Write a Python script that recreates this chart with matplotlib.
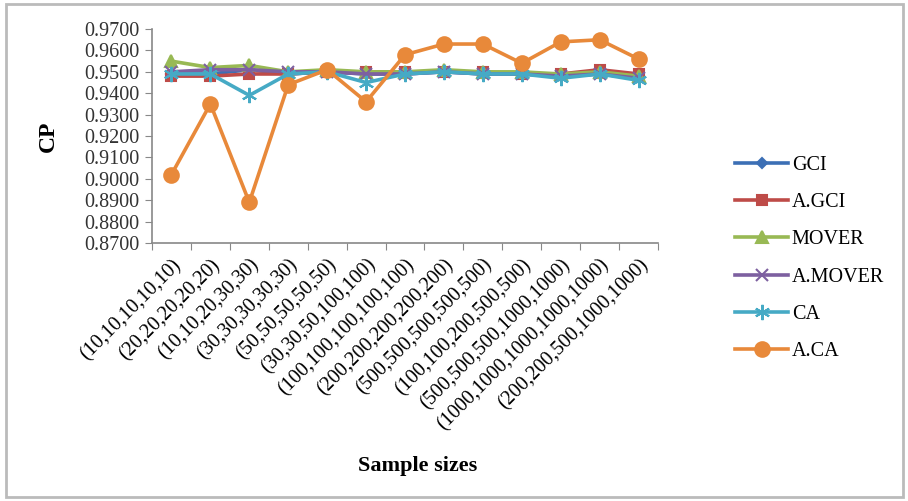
import numpy as np
import matplotlib.pyplot as plt
from matplotlib.patches import Rectangle

plt.rcParams['font.family'] = ['Liberation Serif', 'DejaVu Serif']

sizes = ['(10,10,10,10,10)', '(20,20,20,20,20)', '(10,10,20,30,30)',
         '(30,30,30,30,30)', '(50,50,50,50,50)', '(30,30,50,100,100)',
         '(100,100,100,100,100)', '(200,200,200,200,200)',
         '(500,500,500,500,500)', '(100,100,200,500,500)',
         '(500,500,500,1000,1000)', '(1000,1000,1000,1000,1000)',
         '(200,200,500,1000,1000)']

gci = [0.949, 0.949, 0.951, 0.949, 0.950, 0.949, 0.949, 0.950, 0.949, 0.949, 0.948, 0.949, 0.947]
a_gci = [0.948, 0.948, 0.949, 0.949, 0.950, 0.950, 0.950, 0.950, 0.950, 0.949, 0.949, 0.951, 0.949]
mover = [0.955, 0.952, 0.953, 0.950, 0.951, 0.950, 0.950, 0.951, 0.950, 0.950, 0.949, 0.950, 0.948]
a_mover = [0.950, 0.951, 0.951, 0.950, 0.950, 0.949, 0.949, 0.950, 0.949, 0.949, 0.948, 0.949, 0.947]
ca = [0.949, 0.949, 0.939, 0.949, 0.950, 0.945, 0.949, 0.950, 0.949, 0.949, 0.947, 0.949, 0.946]
a_ca = [0.902, 0.935, 0.889, 0.944, 0.951, 0.936, 0.958, 0.963, 0.963, 0.954, 0.964, 0.965, 0.956]

series = [
    ('GCI', gci, '#3C6FB5', 'D', 5),
    ('A.GCI', a_gci, '#BE4B48', 's', 7),
    ('MOVER', mover, '#98B954', '^', 8),
    ('A.MOVER', a_mover, '#7D60A0', 'x', 9),
    ('CA', ca, '#46AAC5', (6, 2, 0), 11),
    ('A.CA', a_ca, '#E8893A', 'o', 10.5),
]

fig = plt.figure(figsize=(9.08, 5.01), dpi=100)
ax = fig.add_axes([0.1674, 0.515, 0.5573, 0.427])

x = np.arange(len(sizes))
for name, vals, col, mk, ms in series:
    ax.plot(x, vals, color=col, lw=2.6, marker=mk, ms=ms, mew=1.5,
            mec=col, mfc=col, label=name)

ax.set_xlim(-0.5, len(sizes) - 0.5)
ax.set_ylim(0.87, 0.97)
ax.set_yticks(np.arange(0.87, 0.9701, 0.01))
ax.set_yticklabels([f'{v:.4f}' for v in np.arange(0.87, 0.9701, 0.01)])

# category boundaries get the tick marks, centres get the labels
ax.set_xticks(np.arange(-0.5, len(sizes)), labels=[''] * (len(sizes) + 1))
ax.set_xticks(x, minor=True)
ax.set_xticklabels(sizes, minor=True, rotation=45, ha='right',
                   rotation_mode='anchor', fontsize=14.5)
ax.tick_params(axis='x', which='minor', length=0, pad=9)
ax.tick_params(axis='x', which='major', length=5, color='#888888')
ax.tick_params(axis='y', length=5, color='#888888', labelsize=14.5,
               labelcolor='#333333', pad=4)

for side in ['top', 'right']:
    ax.spines[side].set_visible(False)
for side in ['left', 'bottom']:
    ax.spines[side].set_color('#888888')
    ax.spines[side].set_linewidth(1.2)

ax.set_ylabel('CP', fontsize=17, fontweight='bold', labelpad=18)
fig.text(0.46, 0.07, 'Sample sizes', fontsize=16, fontweight='bold',
         ha='center', va='center')

fig.legend(loc='upper left', bbox_to_anchor=(0.79, 0.725), frameon=False,
           fontsize=14.5, handlelength=2.6, labelspacing=0.9, handletextpad=0.2)

fig.patches.append(Rectangle((0.007, 0.008), 0.988, 0.984,
                             transform=fig.transFigure, fill=False,
                             edgecolor='#BBBBBB', lw=2))

fig.savefig('out.png', dpi=100)
